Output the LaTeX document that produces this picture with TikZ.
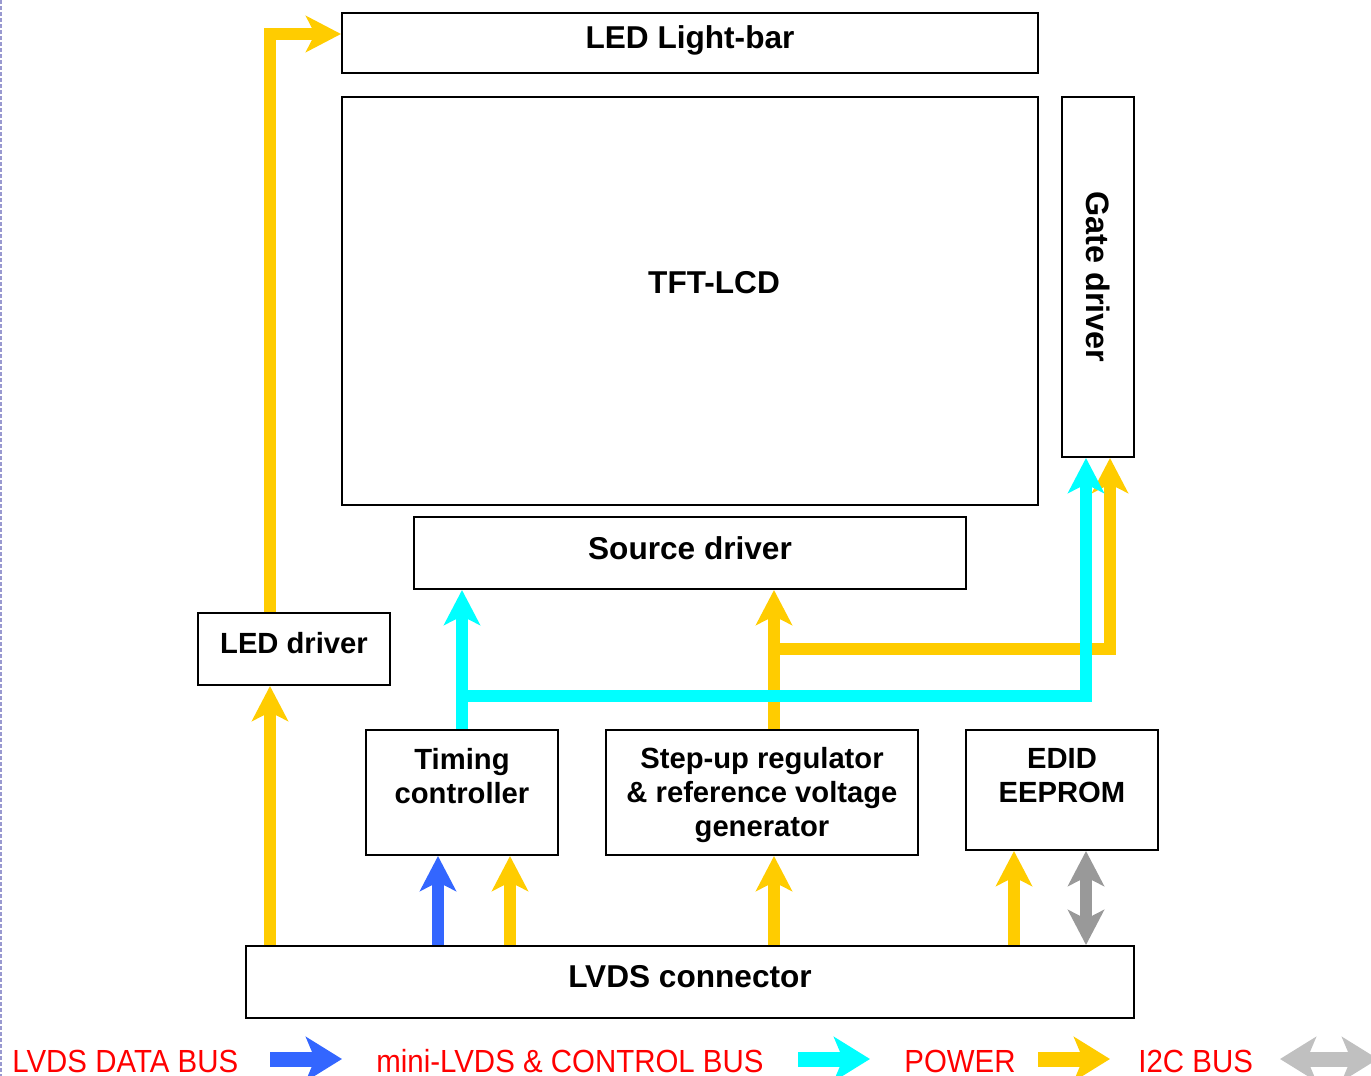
\documentclass[tikz,border=0pt]{standalone}
\usepackage{fontspec}
\setmainfont{Liberation Sans}
\newfontfamily\keyfont[FakeStretch=0.92]{Liberation Sans}
\usetikzlibrary{arrows.meta,calc}
\definecolor{busyellow}{HTML}{FFCC00}
\definecolor{busblue}{HTML}{3366FF}
\definecolor{buscyan}{HTML}{00FFFF}
\definecolor{busgray}{HTML}{999999}
\definecolor{keygray}{HTML}{C0C0C0}
\definecolor{edgeblue}{HTML}{9999D0}
\tikzstyle{block} = [rectangle, draw, line width=1pt, inner sep=0pt]
\tikzstyle{bigtext} = [font=\fontsize{15.8}{19}\selectfont\bfseries, anchor=base, inner sep=0pt]
\tikzstyle{smalltext} = [font=\fontsize{14.6}{17}\selectfont\bfseries, align=center, inner sep=0pt]
\tikzstyle{bus} = [draw, line width=6pt, -{Stealth[length=17.5pt,width=18pt,inset=4.5pt]}]
\tikzstyle{twobus} = [draw, line width=6pt, {Stealth[length=17.5pt,width=18pt,inset=4.5pt]}-{Stealth[length=17.5pt,width=18pt,inset=4.5pt]}]
\tikzstyle{keytext} = [font=\keyfont\fontsize{16}{19}\selectfont, text=red, anchor=base west, inner sep=0pt]
\tikzstyle{keybus} = [draw, line width=7.5pt, -{Stealth[length=18pt,width=22pt,inset=4.5pt]}]
\tikzstyle{twokeybus} = [draw, line width=7.5pt, {Stealth[length=18pt,width=22pt,inset=4.5pt]}-{Stealth[length=18pt,width=22pt,inset=4.5pt]}]

\begin{document}
\begin{tikzpicture}[x=0.5pt,y=-0.5pt]
					\useasboundingbox (0,0) rectangle (1371,1076);
					\draw[edgeblue, line width=1pt, dash pattern=on 2pt off 1pt] (1,0) -- (1,1076);

					% blocks
					\node[block, minimum width=348pt, minimum height=30pt] (bar) at (690,43) {};
					\node[block, minimum width=348pt, minimum height=204pt] (tft) at (690,301) {};
					\node[block, minimum width=36pt, minimum height=180pt] (gate) at (1098,277) {};
					\node[block, minimum width=276pt, minimum height=36pt] (src) at (690,553) {};
					\node[block, minimum width=96pt, minimum height=36pt] (ledd) at (294,649) {};
					\node[block, minimum width=96pt, minimum height=62.5pt] (tcon) at (462,792.5) {};
					\node[block, minimum width=156pt, minimum height=62.5pt] (stepup) at (762,792.5) {};
					\node[block, minimum width=96pt, minimum height=60pt] (edid) at (1062,790) {};
					\node[block, minimum width=444pt, minimum height=36pt] (lvds) at (690,982) {};

					% texts
					\node[bigtext] (bartext) at (690,48) {LED Light-bar};
					\node[bigtext] (tfttext) at (714,293) {TFT-LCD};
					\node[smalltext, font=\fontsize{16.2}{19}\selectfont\bfseries, rotate=-90] (gatetext) at (1098,277) {Gate driver};
					\node[bigtext] (srctext) at (690,559) {Source driver};
					\node[smalltext, anchor=base] (leddtext) at (294,653) {LED driver};
					\node[smalltext] (tcontext) at (462,776) {Timing\\controller};
					\node[smalltext, font=\fontsize{14.6}{17.2}\selectfont\bfseries] (stepuptext) at (762,795) {Step-up regulator\\\& reference voltage\\generator};
					\node[smalltext] (edidtext) at (1062,776) {EDID\\EEPROM};
					\node[bigtext] (lvdstext) at (690,987) {LVDS connector};

					\coordinate (yjoin) at (774,649);
					\coordinate (cjoin) at (462,696);

					% power
					\path[bus,busyellow] (ledd.north -| 270,0) |- ([yshift=4.5pt]bar.west);
					\path[bus,busyellow] (lvds.north -| 270,0) -- (ledd.south -| 270,0);
					\path[bus,busyellow] (lvds.north -| 510,0) -- (tcon.south -| 510,0);
					\path[bus,busyellow] (lvds.north -| 774,0) -- (stepup.south -| 774,0);
					\path[bus,busyellow] (lvds.north -| 1014,0) -- (edid.south -| 1014,0);
					\path[bus,busyellow] (stepup.north -| 774,0) -- (src.south -| 774,0);
					\path[bus,busyellow] (yjoin) -| (gate.south -| 1110,0);

					% mini-LVDS & control
					\path[bus,buscyan] (tcon.north) -- (src.south -| tcon.north);
					\path[bus,buscyan] (cjoin) -| (gate.south -| 1086,0);

					% LVDS data / I2C
					\path[bus,busblue] (lvds.north -| 438,0) -- (tcon.south -| 438,0);
					\path[twobus,busgray] (lvds.north -| 1086,0) -- (edid.south -| 1086,0);

					% legend
					\node[keytext] (keydata) at (12,1072) {LVDS DATA BUS};
					\node[keytext] (keyctrl) at (376,1072) {mini-LVDS \& CONTROL BUS};
					\node[keytext] (keypow) at (904,1072) {POWER};
					\node[keytext] (keyi2c) at (1138,1072) {I2C BUS};
					\coordinate (kb1) at (270,1059);
					\coordinate (kb2) at (798,1059);
					\coordinate (kb3) at (1038,1059);
					\coordinate (kb4) at (1280,1059);
					\path[keybus,busblue] (kb1) -- ++(72,0);
					\path[keybus,buscyan] (kb2) -- ++(72,0);
					\path[keybus,busyellow] (kb3) -- ++(72,0);
					\begin{scope}
						\clip (0,0) rectangle (1371,1076);
						\path[twokeybus,keygray] (kb4) -- ++(98,0);
					\end{scope}
				\end{tikzpicture}
\end{document}
